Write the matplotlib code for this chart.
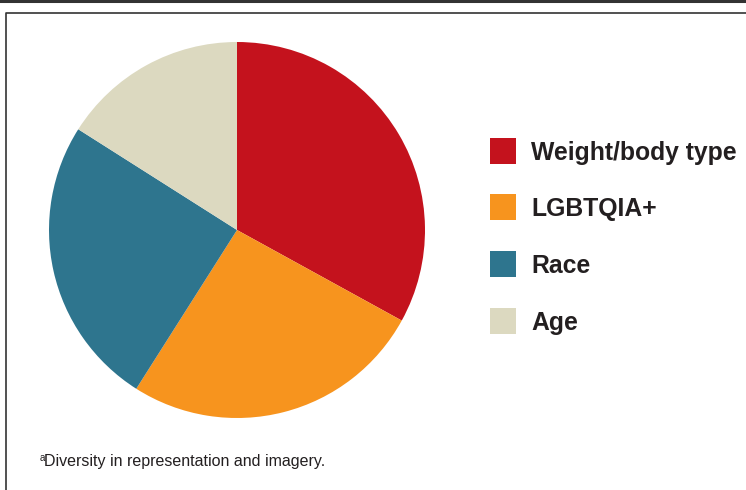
import matplotlib.pyplot as plt
from matplotlib.patches import Rectangle
from matplotlib.lines import Line2D

# Data
categories = ['Weight/body type', 'LGBTQIA+', 'Race', 'Age']
shares = [33, 26, 25, 16]
colors = ['#C4121D', '#F7941E', '#2E758E', '#DCD9C0']
footnote = 'Diversity in representation and imagery.'

W, H = 746, 490
fig = plt.figure(figsize=(W / 100, H / 100), dpi=100)
fig.patch.set_facecolor('white')

# Top rule and the open frame around the chart
fig.add_artist(Line2D([0, 1], [1 - 1.5 / H, 1 - 1.5 / H], color='#333333', lw=2.2))
fig.add_artist(Line2D([6 / W, 6 / W, 1.01], [-0.01, 1 - 13 / H, 1 - 13 / H],
                      color='#333333', lw=1.2))

# Pie: centre (237, 230) px, radius 188 px
cx, cy, r = 237, 230, 188
ax = fig.add_axes([(cx - r) / W, 1 - (cy + r) / H, 2 * r / W, 2 * r / H])
ax.pie(shares, colors=colors, startangle=90, counterclock=False, radius=1,
       wedgeprops={'linewidth': 0})
ax.set_xlim(-1, 1)
ax.set_ylim(-1, 1)
ax.set_aspect('equal')
ax.axis('off')

# Legend built by hand to match the spacing
row_y = [151, 207, 264, 321]
for label, color, y in zip(categories, colors, row_y):
    fig.add_artist(Rectangle((490 / W, 1 - (y + 13) / H), 26 / W, 26 / H,
                             facecolor=color, edgecolor='none'))
    fig.text(531 / W, 1 - (y + 9) / H, label, fontsize=17.8, fontweight='bold',
             family='Liberation Sans', color='#231F20', va='baseline', ha='left')

# Footnote with superscript marker
fig.text(40 / W, 1 - 461 / H, 'a', fontsize=7, family='Liberation Sans',
         color='#231F20', va='baseline')
fig.text(44 / W, 1 - 466 / H, footnote, fontsize=11.5, family='Liberation Sans',
         color='#231F20', va='baseline')

fig.savefig('out.png', dpi=100)
